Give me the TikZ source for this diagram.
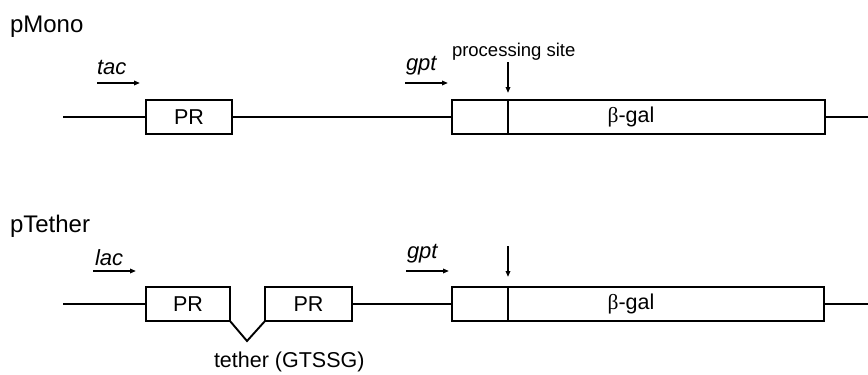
\documentclass[tikz,border=0pt]{standalone}
\usepackage{fontspec}
\setmainfont{Liberation Sans}
\newfontfamily\greekserif{Liberation Serif}
\usetikzlibrary{arrows.meta}
\begin{document}
\begin{tikzpicture}[x=1pt,y=-1pt,
  every node/.style={inner sep=0pt, outer sep=0pt},
  gene/.style={draw, line width=1.9pt, rectangle, minimum height=34pt},
  dna/.style={line width=1.9pt},
  promo/.style={line width=1.6pt, -{Triangle[length=6pt,width=4.5pt]}},
  site/.style={line width=1.6pt, -{Triangle[length=6pt,width=4.5pt]}},
  title/.style={font=\fontsize{24}{28}\selectfont, anchor=base west},
  lbl/.style={font=\fontsize{21.5}{25}\selectfont},
  plbl/.style={font=\fontsize{22}{25}\selectfont\itshape, anchor=base west},
  small/.style={font=\fontsize{18.5}{22}\selectfont, anchor=base west}]
\useasboundingbox (0,0) rectangle (868,375);

% ---------- pMono ----------
\node[title] (t1) at (10,32) {pMono};
\node[plbl] (tac) at (97,74) {tac};
\coordinate (tacA) at (97,83); \coordinate (tacB) at (140,83);
\draw[promo] (tacA) -- (tacB);
\node[plbl] (gpt1) at (406,70) {gpt};
\coordinate (gptA1) at (405,83); \coordinate (gptB1) at (448,83);
\draw[promo] (gptA1) -- (gptB1);

\node[gene, minimum width=86pt, lbl] (pr1) at (189,117) {PR};
\node[gene, minimum width=56pt] (gp1) at (480,117) {};
\node[gene, minimum width=317pt] (gal1) at (666.5,117) {};
\node[lbl] at (631,117) {{\greekserif β}-gal};

\coordinate (l1a) at (63,117);
\coordinate (l1b) at (868,117);
\draw[dna] (l1a) -- (pr1.west);
\draw[dna] (pr1.east) -- (gp1.west);
\draw[dna] (gal1.east) -- (l1b);

\node[small] (ps) at (452,56) {processing site};
\coordinate (ps1) at (508,62);
\draw[site] (ps1) -- ([yshift=7pt]gp1.north east);

% ---------- pTether ----------
\node[title] (t2) at (10,232) {pTether};
\node[plbl] (lac) at (95,265) {lac};
\coordinate (lacA) at (93,271); \coordinate (lacB) at (136,271);
\draw[promo] (lacA) -- (lacB);
\node[plbl] (gpt2) at (407,258) {gpt};
\coordinate (gptA2) at (406,271); \coordinate (gptB2) at (449,271);
\draw[promo] (gptA2) -- (gptB2);

\node[gene, minimum width=84pt, lbl] (pr2a) at (188,304) {PR};
\node[gene, minimum width=87pt, lbl] (pr2b) at (308.5,304) {PR};
\node[gene, minimum width=56pt] (gp2) at (480,304) {};
\node[gene, minimum width=316pt] (gal2) at (666,304) {};
\node[lbl] at (631,304) {{\greekserif β}-gal};

\coordinate (l2a) at (63,304);
\coordinate (l2b) at (868,304);
\draw[dna] (l2a) -- (pr2a.west);
\draw[dna] (pr2b.east) -- (gp2.west);
\draw[dna] (gal2.east) -- (l2b);

% tether loop between the two PR domains
\coordinate (tv) at (247,341);
\draw[dna, line join=miter] (pr2a.south east) -- (tv) -- (pr2b.south west);
\node[lbl, anchor=base west] (tt) at (214,367) {tether (GTSSG)};

\coordinate (ps2) at (508,246);
\draw[site] (ps2) -- ([yshift=10pt]gp2.north east);
\end{tikzpicture}
\end{document}
